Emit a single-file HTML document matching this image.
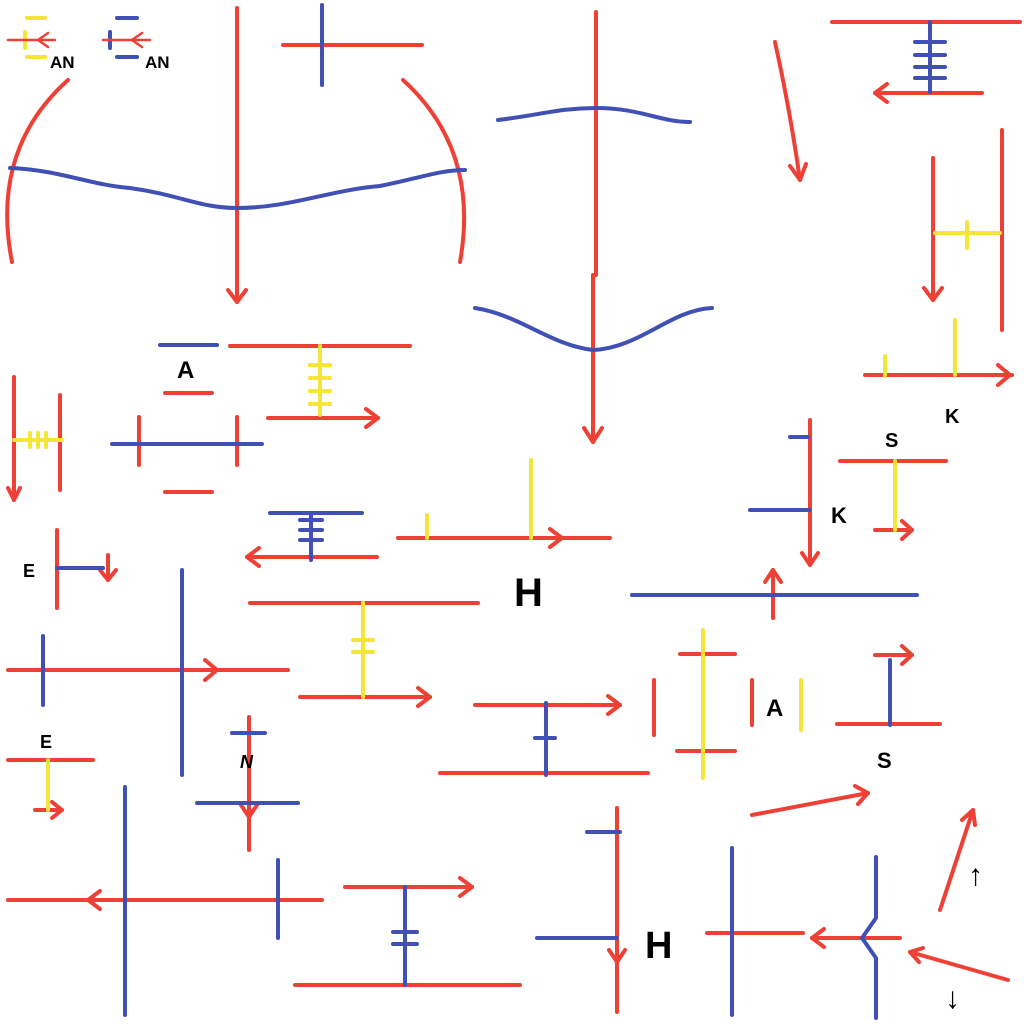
<!DOCTYPE html>
<html><head><meta charset="utf-8"><style>
html,body{margin:0;padding:0;background:#fff;}
svg{display:block}
text{font-family:"Liberation Sans",sans-serif;font-weight:bold;fill:#000}
</style></head><body>
<svg width="1024" height="1024" viewBox="0 0 1024 1024" xmlns="http://www.w3.org/2000/svg" fill="none" stroke-linecap="round" stroke-linejoin="round">
<g stroke-width="4">
<!-- legend -->
<g stroke="#f5e43a"><line x1="27" y1="18" x2="45" y2="18"/><line x1="27" y1="57" x2="45" y2="57"/><line x1="25" y1="32" x2="25" y2="48"/></g>
<g stroke="#ee4035" stroke-width="2.5"><line x1="8" y1="40" x2="55" y2="40"/><polyline points="48,33 38,40 48,47"/></g>
<g stroke="#4050b5"><line x1="117" y1="18" x2="137" y2="18"/><line x1="117" y1="57" x2="137" y2="57"/><line x1="110" y1="32" x2="110" y2="48"/></g>
<g stroke="#ee4035" stroke-width="2.5"><line x1="103" y1="40" x2="150" y2="40"/><polyline points="142,33 132,40 142,47"/></g>
</g>
<text x="50" y="68" font-size="17">AN</text>
<text x="145" y="68" font-size="17">AN</text>

<g stroke="#ee4035" stroke-width="4">
<path d="M68,80 Q-10,150 12,262"/>
<path d="M403,80 Q480,150 460,262"/>
<line x1="237" y1="8" x2="237" y2="302"/><polyline points="228,290 237,302 246,290"/>
<line x1="283" y1="45" x2="422" y2="45"/>
<line x1="596" y1="12" x2="596" y2="275"/>
<line x1="593" y1="275" x2="593" y2="442"/><polyline points="584,428 593,442 602,428"/>
<line x1="832" y1="22" x2="1020" y2="22"/>
<line x1="875" y1="93" x2="982" y2="93"/><polyline points="887,84 875,93 887,102"/>
<path d="M775,42 Q790,110 800,180"/><polyline points="790,166 800,180 806,164"/>
<line x1="933" y1="158" x2="933" y2="300"/><polyline points="924,288 933,300 942,288"/>
<line x1="1002" y1="130" x2="1002" y2="330"/>
<line x1="865" y1="375" x2="1012" y2="375"/><polyline points="998,365 1010,375 998,385"/>
<line x1="230" y1="346" x2="410" y2="346"/>
<line x1="165" y1="393" x2="212" y2="393"/>
<line x1="268" y1="418" x2="378" y2="418"/><polyline points="366,409 378,418 366,427"/>
<line x1="14" y1="377" x2="14" y2="500"/><polyline points="8,488 14,500 20,488"/>
<line x1="60" y1="395" x2="60" y2="490"/>
<line x1="139" y1="417" x2="139" y2="465"/><line x1="237" y1="417" x2="237" y2="465"/>
<line x1="165" y1="492" x2="212" y2="492"/>
<line x1="247" y1="557" x2="377" y2="557"/><polyline points="259,548 247,557 259,566"/>
<line x1="398" y1="538" x2="610" y2="538"/><polyline points="550,529 562,538 550,547"/>
<line x1="57" y1="530" x2="57" y2="608"/>
<line x1="108" y1="555" x2="108" y2="580"/><polyline points="100,570 108,580 116,570"/>
<line x1="250" y1="603" x2="478" y2="603"/>
<line x1="300" y1="697" x2="430" y2="697"/><polyline points="418,688 430,697 418,706"/>
<line x1="8" y1="670" x2="288" y2="670"/><polyline points="205,660 217,670 205,680"/>
<line x1="8" y1="760" x2="93" y2="760"/>
<line x1="35" y1="810" x2="62" y2="810"/><polyline points="52,802 62,810 52,818"/>
<line x1="249" y1="717" x2="249" y2="850"/><polyline points="241,805 249,817 257,805"/>
<line x1="475" y1="705" x2="620" y2="705"/><polyline points="608,696 620,705 608,714"/>
<line x1="440" y1="773" x2="648" y2="773"/>
<line x1="810" y1="420" x2="810" y2="565"/><polyline points="802,553 810,565 818,553"/>
<line x1="840" y1="461" x2="946" y2="461"/>
<line x1="875" y1="530" x2="912" y2="530"/><polyline points="902,521 912,530 902,539"/>
<line x1="773" y1="570" x2="773" y2="618"/><polyline points="765,582 773,570 781,582"/>
<line x1="654" y1="680" x2="654" y2="735"/>
<line x1="680" y1="654" x2="735" y2="654"/>
<line x1="677" y1="751" x2="735" y2="751"/>
<line x1="752" y1="680" x2="752" y2="725"/>
<line x1="875" y1="655" x2="912" y2="655"/><polyline points="902,646 912,655 902,664"/>
<line x1="837" y1="724" x2="940" y2="724"/>
<line x1="752" y1="815" x2="868" y2="793"/><polyline points="855,786 868,793 858,804"/>
<line x1="940" y1="910" x2="973" y2="810"/><polyline points="962,820 973,810 975,825"/>
<line x1="1008" y1="980" x2="910" y2="952"/><polyline points="923,948 910,952 919,962"/>
<line x1="8" y1="900" x2="322" y2="900"/><polyline points="100,891 88,900 100,909"/>
<line x1="345" y1="887" x2="472" y2="887"/><polyline points="460,878 472,887 460,896"/>
<line x1="295" y1="985" x2="520" y2="985"/>
<line x1="617" y1="808" x2="617" y2="1012"/><polyline points="609,950 617,962 625,950"/>
<line x1="707" y1="933" x2="803" y2="933"/>
<line x1="812" y1="938" x2="900" y2="938"/><polyline points="824,929 812,938 824,947"/>
</g>

<g stroke="#4050b5" stroke-width="4">
<path d="M10,168 C60,170 90,185 130,188 C180,195 200,208 237,208 C290,208 330,190 380,186 C420,178 440,170 465,170"/>
<line x1="322" y1="5" x2="322" y2="85"/>
<path d="M498,120 C540,115 560,108 596,108 C640,108 660,122 690,122"/>
<path d="M475,308 C520,315 550,345 593,350 C640,348 670,310 712,308"/>
<line x1="930" y1="22" x2="930" y2="92"/>
<line x1="915" y1="42" x2="945" y2="42"/><line x1="915" y1="55" x2="945" y2="55"/><line x1="915" y1="67" x2="945" y2="67"/><line x1="915" y1="78" x2="945" y2="78"/>
<line x1="160" y1="345" x2="217" y2="345"/>
<line x1="112" y1="444" x2="262" y2="444"/>
<line x1="270" y1="513" x2="362" y2="513"/>
<line x1="311" y1="513" x2="311" y2="560"/>
<line x1="300" y1="520" x2="322" y2="520"/><line x1="300" y1="530" x2="322" y2="530"/><line x1="300" y1="540" x2="322" y2="540"/>
<line x1="57" y1="568" x2="103" y2="568"/>
<line x1="43" y1="636" x2="43" y2="705"/>
<line x1="182" y1="570" x2="182" y2="775"/>
<line x1="232" y1="733" x2="265" y2="733"/>
<line x1="197" y1="803" x2="298" y2="803"/>
<line x1="546" y1="703" x2="546" y2="775"/><line x1="535" y1="738" x2="555" y2="738"/>
<line x1="790" y1="437" x2="808" y2="437"/>
<line x1="750" y1="510" x2="810" y2="510"/>
<line x1="632" y1="595" x2="917" y2="595"/>
<line x1="890" y1="660" x2="890" y2="725"/>
<line x1="125" y1="787" x2="125" y2="1015"/>
<line x1="278" y1="860" x2="278" y2="938"/>
<line x1="405" y1="887" x2="405" y2="985"/><line x1="393" y1="932" x2="417" y2="932"/><line x1="393" y1="944" x2="417" y2="944"/>
<line x1="587" y1="832" x2="620" y2="832"/>
<line x1="537" y1="938" x2="617" y2="938"/>
<line x1="732" y1="848" x2="732" y2="1015"/>
<polyline points="876,857 876,918 862,938 876,958 876,1018"/>
</g>

<g stroke="#f5e43a" stroke-width="4">
<line x1="935" y1="233" x2="1000" y2="233"/><line x1="967" y1="222" x2="967" y2="248"/>
<line x1="955" y1="320" x2="955" y2="375"/><line x1="885" y1="356" x2="885" y2="376"/>
<line x1="320" y1="346" x2="320" y2="415"/>
<line x1="310" y1="365" x2="330" y2="365"/><line x1="310" y1="378" x2="330" y2="378"/><line x1="310" y1="391" x2="330" y2="391"/><line x1="310" y1="404" x2="330" y2="404"/>
<line x1="14" y1="440" x2="62" y2="440"/>
<line x1="30" y1="433" x2="30" y2="447"/><line x1="38" y1="433" x2="38" y2="447"/><line x1="46" y1="433" x2="46" y2="447"/>
<line x1="427" y1="515" x2="427" y2="538"/><line x1="531" y1="460" x2="531" y2="538"/>
<line x1="363" y1="603" x2="363" y2="697"/><line x1="353" y1="640" x2="373" y2="640"/><line x1="353" y1="652" x2="373" y2="652"/>
<line x1="48" y1="760" x2="48" y2="810"/>
<line x1="895" y1="461" x2="895" y2="530"/>
<line x1="703" y1="630" x2="703" y2="778"/>
<line x1="801" y1="680" x2="801" y2="730"/>
</g>

<text x="177" y="378" font-size="24">A</text>
<text x="945" y="423" font-size="20">K</text>
<text x="885" y="447" font-size="20">S</text>
<text x="831" y="523" font-size="22">K</text>
<text x="514" y="606" font-size="40" font-weight="normal">H</text>
<text x="23" y="577" font-size="18">E</text>
<text x="40" y="748" font-size="18">E</text>
<text x="240" y="768" font-size="18" font-style="italic">N</text>
<text x="766" y="716" font-size="24">A</text>
<text x="877" y="768" font-size="22">S</text>
<text x="645" y="958" font-size="38" font-weight="normal">H</text>
<text x="968" y="885" font-size="30">↑</text>
<text x="945" y="1008" font-size="30">↓</text>
</svg>
</body></html>
